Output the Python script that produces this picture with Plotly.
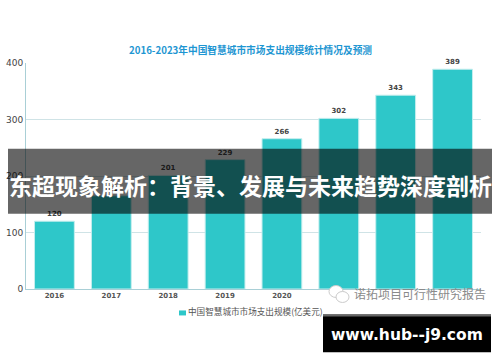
import plotly.graph_objects as go

W, H = 500, 362
years = ["2016", "2017", "2018", "2019", "2020", "2021", "2022", "2023"]
values = [120, 165, 201, 229, 266, 302, 343, 389]
labels = ["120", "165", "201", "229", "266", "302", "343", "389"]
yticks = [0, 100, 200, 300, 400]
title = "2016-2023年中国智慧城市市场支出规模统计情况及预测"
series_name = "中国智慧城市市场支出规模(亿美元)"
banner = "东超现象解析：背景、发展与未来趋势深度剖析"
watermark = "诺拓项目可行性研究报告"
site = "www.hub--j9.com"
CJK = "Noto Sans CJK SC"

fig = go.Figure(go.Bar(
    x=years, y=values, name=series_name, width=0.7,
    marker=dict(color="#2ec7c9", line=dict(color="#c4eeee", width=1)),
    text=labels, textposition="outside", cliponaxis=False,
    textfont=dict(size=7, color="#444444", family="DejaVu Sans", weight=600),
))
fig.update_layout(
    width=W, height=H, paper_bgcolor="white", plot_bgcolor="white",
    margin=dict(l=26, r=19, t=63, b=72.5, autoexpand=False), bargap=0.3, showlegend=False,
    xaxis=dict(type="category", showgrid=False, showline=True, linecolor="#a9cfd6", linewidth=1,
               ticks="", tickfont=dict(size=7, color="#555555", family="DejaVu Sans", weight=700)),
    yaxis=dict(range=[0, 400], tickvals=yticks, showgrid=True, gridcolor="#cfe3e6", gridwidth=1,
               showline=True, linecolor="#a9cfd6", linewidth=1, zeroline=False,
               ticks="", tickfont=dict(size=9, color="#444444", family="DejaVu Sans")),
    font=dict(family=CJK),
)

def pos(x, y):
    return (x - 26) / 455, (289.5 - y) / 226.5

def pshape(x0, y0, x1, y1, color, kind="rect", outline=None):
    a, b = pos(x0, y1)
    c, d = pos(x1, y0)
    fig.add_shape(type=kind, xref="paper", yref="paper", layer="above", fillcolor=color,
                  line=dict(width=1 if outline else 0, color=outline or color),
                  x0=a, y0=b, x1=c, y1=d)

def ptext(x, y, text, size, color, family=CJK, anchor="center", bold=False):
    a, b = pos(x, y)
    fig.add_annotation(xref="paper", yref="paper", x=a, y=b,
                       text=f"<b>{text}</b>" if bold else text, showarrow=False,
                       xanchor=anchor, yanchor="middle", borderpad=0, borderwidth=0,
                       font=dict(size=size, color=color, family=family))

pshape(179, 311, 186, 316, "#2ec7c9")
ptext(188, 311.5, series_name, 8.6, "#555555", anchor="left")
ptext(250, 50, title, 9.7, "#1e96d2", bold=True)
pshape(8, 149, 492, 214, "rgba(0,0,0,0.6)")
ptext(250, 185, banner, 23, "white", bold=True)
# white patch of the watermark, which hides the last axis labels, and its mark
pshape(325, 291, 492, 306, "#ffffff")
pshape(329, 286, 343, 298, "#ffffff", "circle", "#cccccc")
pshape(336, 292, 349, 303, "#ffffff", "circle", "#cccccc")
ptext(419.5, 294.5, watermark, 12, "#8a8a8a")
pshape(323, 315, 491, 353, "#000000")
pshape(323, 315, 491, 317, "#666666")
ptext(407, 336, site, 15.5, "white", family="DejaVu Sans", bold=True)

fig.write_html("out.html", config={"displayModeBar": False},
               post_script="document.body.style.margin='0';document.body.style.overflow='hidden';")
